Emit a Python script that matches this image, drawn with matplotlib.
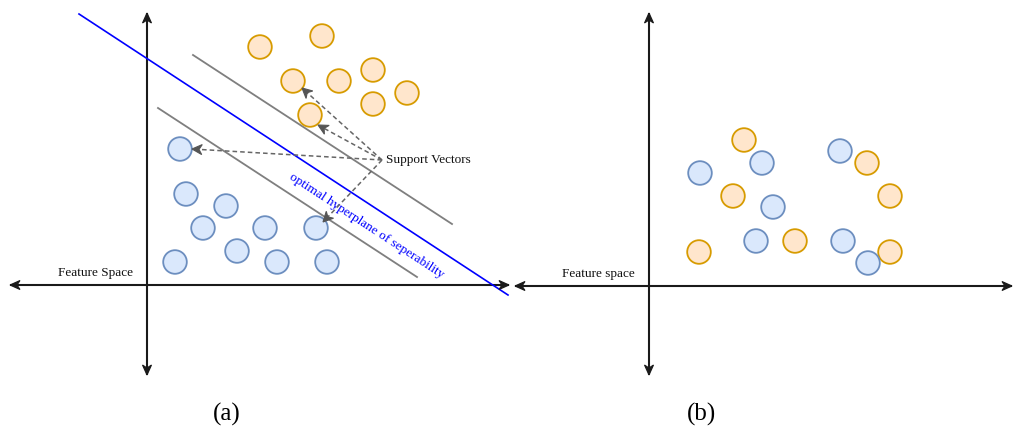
import numpy as np
import matplotlib.pyplot as plt
from matplotlib.patches import Circle, Polygon

# Kreis-Mittelpunkte (Bildkoordinaten, y nach unten)
a_orange_x = [260, 322, 293, 339, 373, 407, 373, 310]
a_orange_y = [47, 36, 81, 81, 70, 93, 104, 115]
a_blue_x = [180, 186, 226, 203, 265, 316, 237, 175, 277, 327]
a_blue_y = [149, 194, 206, 228, 228, 228, 251, 262, 262, 262]

b_orange_x = [744, 867, 733, 890, 699, 795, 890]
b_orange_y = [140, 163, 196, 196, 252, 241, 252]
b_blue_x = [700, 762, 840, 773, 756, 843, 868]
b_blue_y = [173, 163, 151, 207, 241, 241, 263]

# Linien in (a): Trennebene und Ränder
hyperplane = [(79, 14), (508, 295)]
margin_upper = [(193, 55), (452, 224)]
margin_lower = [(158, 108), (417, 277)]

# Stützvektoren, auf die die Pfeile zeigen (Pfeilspitzen)
sv_tips = [(302, 88), (318, 125), (192, 149), (323, 222)]
sv_source = (382, 160)

ORANGE_FILL, ORANGE_EDGE = "#ffe6cc", "#d79b00"
BLUE_FILL, BLUE_EDGE = "#dae8fc", "#6c8ebf"
R = 11.8

plt.rcParams['font.family'] = ['Liberation Serif', 'DejaVu Serif']

fig = plt.figure(figsize=(10.13, 4.34), dpi=100)
ax = fig.add_axes([0, 0, 1, 1])
ax.set_xlim(0, 1013)
ax.set_ylim(434, 0)
ax.axis('off')


def head(tip, start, color, length=10, half=4.5, notch=3, z=5):
    # Pfeilspitze im draw.io-Stil (mit Kerbe)
    tip = np.array(tip, float)
    d = tip - np.array(start, float)
    d /= np.linalg.norm(d)
    n = np.array([-d[1], d[0]])
    base = tip - d * length
    pts = [tip, base + n * half, tip - d * (length - notch), base - n * half]
    ax.add_patch(Polygon(pts, closed=True, facecolor=color, edgecolor=color, lw=0.8, zorder=z))


def axis_arrow(p1, p2, color="#1a1a1a"):
    ax.plot([p1[0], p2[0]], [p1[1], p2[1]], color=color, lw=1.5, zorder=2,
            solid_capstyle='butt')
    head(p1, p2, color)
    head(p2, p1, color)


def circles(xs, ys, fill, edge):
    for x, y in zip(xs, ys):
        ax.add_patch(Circle((x, y), R, facecolor=fill, edgecolor=edge, lw=1.3, zorder=3))


# Panel (a)
axis_arrow((147, 375), (147, 13))
axis_arrow((10, 285), (509, 285))
ax.plot(*zip(*hyperplane), color="#0000ff", lw=1.2, zorder=2)
ax.plot(*zip(*margin_upper), color="#7f7f7f", lw=1.3, zorder=2)
ax.plot(*zip(*margin_lower), color="#7f7f7f", lw=1.3, zorder=2)
circles(a_orange_x, a_orange_y, ORANGE_FILL, ORANGE_EDGE)
circles(a_blue_x, a_blue_y, BLUE_FILL, BLUE_EDGE)

for tip in sv_tips:
    d = np.array(tip, float) - np.array(sv_source, float)
    end = np.array(tip) - d / np.linalg.norm(d) * 6
    ax.plot([sv_source[0], end[0]], [sv_source[1], end[1]], color="#666666",
            lw=1.1, linestyle=(0, (3, 2)), zorder=4)
    head(tip, sv_source, "#555555", length=10, half=5, notch=3)

ax.text(386, 160, "Support Vectors", fontsize=9.5, ha='left', va='center', color="#111111")
ax.text(367, 226, "optimal hyperplane of seperability", fontsize=9.5, color="#0000ff",
        ha='center', va='center', rotation=-33.2, rotation_mode='anchor')
ax.text(96, 273, "Feature Space", fontsize=9.5, ha='center', va='center', color="#111111")
ax.text(227, 414, "(a)", fontsize=18, ha='center', va='center')

# Panel (b)
axis_arrow((649, 375), (649, 13))
axis_arrow((515, 286), (1012, 286))
circles(b_orange_x, b_orange_y, ORANGE_FILL, ORANGE_EDGE)
circles(b_blue_x, b_blue_y, BLUE_FILL, BLUE_EDGE)
ax.text(598, 274, "Feature space", fontsize=9.5, ha='center', va='center', color="#111111")
ax.text(701, 414, "(b)", fontsize=18, ha='center', va='center')

fig.savefig("out.png", dpi=100)
